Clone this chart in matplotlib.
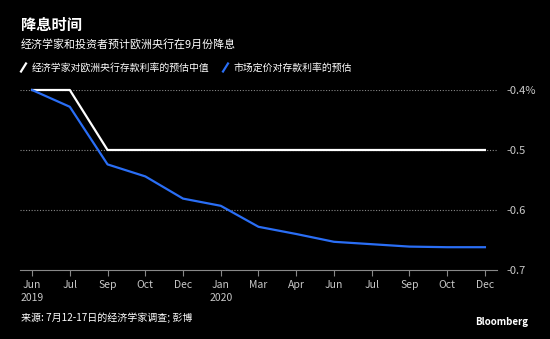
import matplotlib.pyplot as plt
from matplotlib.lines import Line2D

plt.rcParams['font.family'] = ['Noto Sans CJK SC', 'DejaVu Sans']

months = ["Jun\n2019", "Jul", "Sep", "Oct", "Dec", "Jan\n2020", "Mar", "Apr",
          "Jun", "Jul", "Sep", "Oct", "Dec"]
economists = [-0.4, -0.4, -0.5, -0.5, -0.5, -0.5, -0.5, -0.5, -0.5, -0.5, -0.5, -0.5, -0.5]
market = [-0.4, -0.428, -0.524, -0.544, -0.581, -0.593, -0.628, -0.64,
          -0.653, -0.657, -0.661, -0.662, -0.662]
yticks = [-0.4, -0.5, -0.6, -0.7]
ylabels = ["-0.4%", "-0.5", "-0.6", "-0.7"]

blue = "#2a6ef5"
grey = "#c8c8c8"

fig = plt.figure(figsize=(5.5, 3.39), dpi=100, facecolor="black")
ax = fig.add_axes([20 / 550, 1 - 270 / 339, 477 / 550, 180 / 339], facecolor="black")

x = range(len(months))
ax.plot(x, economists, color="white", lw=1.6, clip_on=False, zorder=3)
ax.plot(x, market, color=blue, lw=1.6, clip_on=False, zorder=3)

ax.set_xlim(-0.32, 12.32)
ax.set_ylim(-0.7, -0.4)
ax.set_xticks(list(x))
ax.set_xticklabels(months, color=grey, fontsize=7.5, linespacing=1.35)
ax.set_yticks(yticks)
ax.set_yticklabels(ylabels, color=grey, fontsize=8)
ax.yaxis.tick_right()
ax.tick_params(axis="y", length=0, pad=7)
ax.tick_params(axis="x", length=4, color="#888888", pad=3)
for v in yticks[:-1]:
    ax.axhline(v, color="#888888", lw=0.8, ls=(0, (1, 1.5)), zorder=1)
for s in ["top", "left", "right"]:
    ax.spines[s].set_visible(False)
ax.spines["bottom"].set_color("#888888")

fig.text(21 / 550, 1 - 25 / 339, "降息时间", color="white", fontsize=11,
         fontweight="bold", va="center")
fig.text(21 / 550, 1 - 44 / 339, "经济学家和投资者预计欧洲央行在9月份降息", color="white",
         fontsize=7.9, va="center")

# legend
ly = 1 - 67.5 / 339
for x0, c, label in [(21, "white", "经济学家对欧洲央行存款利率的预估中值"),
                     (223, blue, "市场定价对存款利率的预估")]:
    fig.add_artist(Line2D([x0 / 550, (x0 + 5) / 550], [ly - 4 / 339, ly + 4 / 339],
                          color=c, lw=1.6, transform=fig.transFigure))
    fig.text((x0 + 11) / 550, ly, label, color="white", fontsize=7.1, va="center")

fig.text(21 / 550, 1 - 318 / 339, "来源: 7月12-17日的经济学家调查; 彭博", color="white",
         fontsize=7.2, va="center")
fig.text(528 / 550, 1 - 322 / 339, "Bloomberg", color="white", fontsize=7,
         fontweight="bold", va="center", ha="right")

fig.savefig("out.png", dpi=100, facecolor="black")
